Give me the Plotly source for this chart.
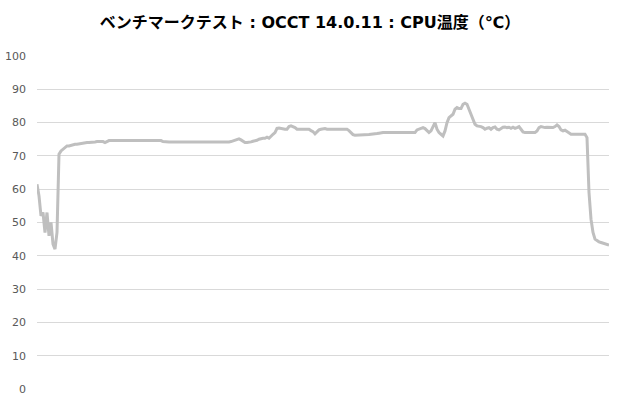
import plotly.graph_objects as go

title_text = "ベンチマークテスト : OCCT 14.0.11 : CPU温度（℃）"
y_ticks = [0, 10, 20, 30, 40, 50, 60, 70, 80, 90, 100]

cpu_temp = [
    61.5, 58, 52, 53, 47, 53, 46, 50, 43.5, 42,
    47, 70.5, 71.5, 72, 72.5, 73, 73, 73.2, 73.4, 73.5,
    73.5, 73.6, 73.8, 74, 74, 74, 74, 74, 74, 74.2,
    74.3, 74.3, 74.3, 74.3, 74, 74.3, 74.6, 74.6, 74.6, 74.6,
    74.6, 74.8, 74.8, 74.8, 74.8, 74.8, 74.8, 74.8, 74.8, 74.8,
    74.8, 74.8, 74.8, 74.8, 74.8, 74.8, 74.8, 74.8, 74.8, 74.8,
    74.8, 74.8, 74.6, 74.3, 74.2, 74.2, 74.2, 74.2, 74.2, 74.2,
    74.2, 74.2, 74.2, 74, 74, 74, 74, 74, 74, 74,
    74, 74, 74, 74, 74, 74, 74, 74, 74, 74.1,
    74.1, 74.1, 74.1, 74.1, 74.1, 74.1, 74.2, 74.3, 74.5, 74.8,
    75, 75.1, 74.8, 74.3, 74, 74, 74, 74.2, 74.4, 74.5,
    74.7, 75, 75.2, 75.3, 75.3, 75.6, 75.3, 76, 76.5, 77,
    78.3, 78.4, 78.2, 78, 78, 78, 78.8, 79, 78.8, 78.5,
    78, 78, 78, 78, 78, 78, 78, 77.6, 77.3, 76.6,
    77.3, 77.8, 78, 78.2, 78.2, 78, 78, 78, 78, 78,
    78, 78, 78, 78, 78, 78, 77.6, 77, 76.4, 76.2,
    76.2, 76.2, 76.2, 76.2, 76.2, 76.2, 76.4, 76.5, 76.5, 76.7,
    76.7, 76.8, 77, 77, 77, 77, 77, 77, 77, 77,
    77, 77, 77, 77, 77, 77, 77, 77, 77, 77,
    77.8, 78, 78.3, 78.5, 78.2, 77.5, 77, 77.5, 79, 80,
    78, 77, 76.5, 76, 77.5, 80, 81.5, 82, 82.5, 84,
    84.5, 84.2, 84.2, 85.5, 85.8, 85.5, 84, 82, 81, 79.5,
    79, 79, 78.8, 78.5, 78, 78.3, 78.5, 78, 78.5, 78.7,
    78, 77.8, 78.3, 78.6, 78.7, 78.5, 78.6, 78.3, 78.6, 78.3,
    78.5, 78.8, 78, 77.2, 77, 77, 77, 77, 77, 77,
    77.5, 78.5, 78.8, 78.6, 78.5, 78.6, 78.5, 78.6, 78.5, 78.8,
    79.3, 78.8, 77.8, 77.5, 77.7, 77.3, 76.8, 76.5, 76.5, 76.5,
    76.5, 76.5, 76.5, 76.5, 76.5, 75.5, 59, 51, 47, 45,
    44.5, 44.2, 44, 43.8, 43.8, 43.5, 43.2,
]
sample_index = list(range(len(cpu_temp)))

fig = go.Figure()
fig.add_trace(go.Scatter(
    x=sample_index, y=cpu_temp, mode="lines",
    line=dict(color="#BFBFBF", width=3),
    hoverinfo="skip", showlegend=False,
))

W, H = 620, 400
fig.update_layout(
    template="none",
    width=W, height=H,
    margin=dict(l=37, r=11, t=56, b=11),
    paper_bgcolor="white", plot_bgcolor="white",
    title=dict(
        text="<b>" + title_text + "</b>",
        x=0.5, xref="container", xanchor="center",
        y=1 - 22 / H, yref="container", yanchor="middle",
        font=dict(family="DejaVu Sans, Noto Sans CJK JP", size=16, color="#000000"),
    ),
    xaxis=dict(
        range=[0, len(cpu_temp) - 1], showgrid=False, zeroline=False,
        showline=False, showticklabels=False, ticks="",
    ),
    yaxis=dict(
        range=[0, 100], tickvals=y_ticks, ticktext=[str(v) for v in y_ticks],
        showgrid=True, gridcolor="#D9D9D9", gridwidth=1,
        zeroline=False, showline=False, ticks="",
        ticklabelstandoff=10,
        tickfont=dict(family="DejaVu Sans", size=11, color="#595959"),
    ),
)

# remove the browser's default 8px page margin so the figure fills the window
fig.write_html(
    "out.html",
    config={"displayModeBar": False, "staticPlot": True},
    post_script="document.body.style.margin='0px';",
)
